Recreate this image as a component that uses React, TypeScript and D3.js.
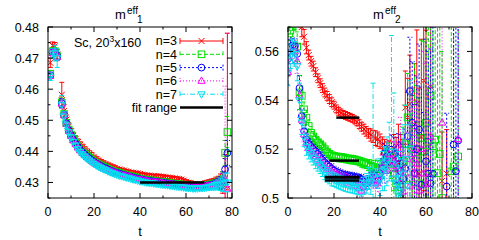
import * as d3 from "d3";

// ---------- data: left panel m_eff_1 (index = t) ----------
const left3 = [
  null, .4685, .4740, .4738, .4712, null, .4582, .4530, .4502, .4480,
  .4464, .4450, .4440, .4430, .4421, .4413, .4405, .4398, .4392, .4386,
  .4380, .4375, .4370, .4366, .4362, .4358, .4355, .4352, .4349, .4346,
  .4344, .4342, .4340, .4338, .4336, .4334, .4332, .4331, .4330, .4329,
  .4327, .4325, .4324, .4323, .4322, .4321, .4320, .4320, .4320, .4319,
  .4318, .4317, .4316, .4315, .4314, .4313, .4312, .4311, .4309, .4306,
  .4302, .4299, .4297, .4295, .4293, .4292, .4292, .4293, .4294, .4295,
  .4296, .4297, .4298, .4299, .4300, .4302, .4300, .4290, .4280,
];
const left3Err = [
  0, .0015, .0012, .0012, .0015, 0, .0040, .0020, .0015, .0012,
  .0010, .0010, .0010, .0010, .0010, .0010, .0010, .0010, .0010, .0010,
  .0008, .0008, .0008, .0008, .0008, .0008, .0008, .0008, .0008, .0008,
  .0006, .0006, .0006, .0006, .0006, .0006, .0006, .0006, .0006, .0006,
  .0006, .0006, .0006, .0006, .0006, .0006, .0006, .0006, .0006, .0006,
  .0006, .0006, .0006, .0006, .0006, .0006, .0006, .0006, .0006, .0006,
  .0007, .0007, .0008, .0008, .0009, .0009, .0010, .0010, .0011, .0012,
  .0013, .0014, .0015, .0018, .0020, .0025, .0035, .0100, .0500,
];
const left4 = [
  null, .4650, .4722, .4722, .4706, null, .4557, .4520, .4492, .4470,
  .4454, .4440, .4428, .4417, .4408, .4400, .4392, .4385, .4379, .4373,
  .4368, .4363, .4359, .4355, .4351, .4348, .4344, .4341, .4338, .4335,
  .4333, .4330, .4328, .4326, .4324, .4322, .4320, .4318, .4316, .4314,
  .4312, .4311, .4309, .4308, .4307, .4306, .4305, .4304, .4303, .4302,
  .4301, .4300, .4299, .4298, .4297, .4296, .4295, .4294, .4293, .4292,
  .4291, .4290, .4290, .4289, .4289, .4289, .4290, .4290, .4291, .4292,
  .4293, .4294, .4296, .4298, .4300, .4302, .4310, .4395, .4462,
];
const left4Err = [
  0, .0010, .0010, .0010, .0012, 0, .0015, .0010, .0008, .0007,
  .0006, .0006, .0006, .0006, .0006, .0006, .0006, .0006, .0006, .0006,
  .0005, .0005, .0005, .0005, .0005, .0005, .0005, .0005, .0005, .0005,
  .0005, .0005, .0005, .0005, .0005, .0005, .0005, .0005, .0005, .0005,
  .0005, .0005, .0005, .0005, .0005, .0005, .0005, .0005, .0005, .0005,
  .0005, .0005, .0005, .0005, .0005, .0005, .0005, .0005, .0005, .0005,
  .0006, .0006, .0006, .0006, .0006, .0006, .0006, .0006, .0006, .0006,
  .0008, .0008, .0010, .0012, .0015, .0018, .0025, .0040, .0050,
];
const left5 = [
  null, .4645, .4718, .4720, .4705, null, .4555, .4518, .4490, .4468,
  .4452, .4437, .4425, .4414, .4405, .4397, .4390, .4383, .4377, .4371,
  .4366, .4361, .4357, .4353, .4349, .4346, .4342, .4339, .4336, .4333,
  .4331, .4328, .4326, .4324, .4322, .4320, .4318, .4316, .4314, .4312,
  .4310, .4309, .4307, .4306, .4305, .4304, .4303, .4302, .4301, .4300,
  .4299, .4298, .4297, .4296, .4295, .4294, .4293, .4292, .4291, .4290,
  .4289, .4288, .4288, .4287, .4287, .4287, .4288, .4288, .4289, .4290,
  .4291, .4292, .4294, .4296, .4298, .4300, .4305, .4342, .4395,
];
const left5Err = [
  0, .0010, .0010, .0010, .0012, 0, .0015, .0010, .0008, .0007,
  .0006, .0006, .0006, .0006, .0006, .0006, .0006, .0006, .0006, .0006,
  .0005, .0005, .0005, .0005, .0005, .0005, .0005, .0005, .0005, .0005,
  .0005, .0005, .0005, .0005, .0005, .0005, .0005, .0005, .0005, .0005,
  .0005, .0005, .0005, .0005, .0005, .0005, .0005, .0005, .0005, .0005,
  .0005, .0005, .0005, .0005, .0005, .0005, .0005, .0005, .0005, .0005,
  .0006, .0006, .0006, .0006, .0006, .0006, .0006, .0006, .0006, .0006,
  .0008, .0008, .0010, .0012, .0015, .0018, .0025, .0035, .0040,
];
const left6 = [
  null, .4642, .4716, .4718, .4703, null, .4553, .4516, .4488, .4466,
  .4450, .4435, .4423, .4412, .4403, .4395, .4388, .4381, .4375, .4369,
  .4364, .4359, .4355, .4351, .4347, .4344, .4340, .4337, .4334, .4331,
  .4329, .4326, .4324, .4322, .4320, .4318, .4316, .4314, .4312, .4310,
  .4308, .4307, .4305, .4304, .4303, .4302, .4301, .4300, .4299, .4298,
  .4297, .4296, .4295, .4294, .4293, .4292, .4291, .4290, .4289, .4288,
  .4287, .4286, .4286, .4285, .4285, .4285, .4286, .4286, .4287, .4288,
  .4289, .4290, .4292, .4294, .4296, .4298, .4300, .4310, .4280,
];
const left6Err = [
  0, .0010, .0010, .0010, .0012, 0, .0015, .0010, .0008, .0007,
  .0006, .0006, .0006, .0006, .0006, .0006, .0006, .0006, .0006, .0006,
  .0005, .0005, .0005, .0005, .0005, .0005, .0005, .0005, .0005, .0005,
  .0005, .0005, .0005, .0005, .0005, .0005, .0005, .0005, .0005, .0005,
  .0005, .0005, .0005, .0005, .0005, .0005, .0005, .0005, .0005, .0005,
  .0005, .0005, .0005, .0005, .0005, .0005, .0005, .0005, .0005, .0005,
  .0006, .0006, .0006, .0006, .0006, .0006, .0006, .0006, .0006, .0006,
  .0008, .0008, .0010, .0012, .0015, .0018, .0030, .0300, .0500,
];
const left7 = [
  null, .4640, .4715, .4716, .4700, null, .4550, .4512, .4484, .4462,
  .4446, .4431, .4419, .4408, .4399, .4391, .4384, .4377, .4371, .4365,
  .4360, .4355, .4351, .4347, .4343, .4340, .4336, .4333, .4330, .4327,
  .4325, .4322, .4320, .4318, .4316, .4314, .4312, .4310, .4308, .4306,
  .4304, .4303, .4301, .4300, .4299, .4298, .4297, .4296, .4295, .4294,
  .4293, .4292, .4291, .4290, .4289, .4288, .4287, .4286, .4285, .4284,
  .4283, .4282, .4282, .4281, .4281, .4281, .4282, .4282, .4283, .4284,
  .4285, .4286, .4288, .4290, .4292, .4294, .4296, .4300, .4300,
];
const left7Err = [
  0, .0012, .0015, .0025, .0030, 0, .0030, .0015, .0010, .0008,
  .0007, .0007, .0007, .0007, .0007, .0007, .0007, .0007, .0007, .0007,
  .0006, .0006, .0006, .0006, .0006, .0006, .0006, .0006, .0006, .0006,
  .0006, .0006, .0006, .0006, .0006, .0006, .0006, .0006, .0006, .0006,
  .0006, .0006, .0006, .0006, .0006, .0006, .0006, .0006, .0006, .0006,
  .0006, .0006, .0006, .0006, .0006, .0006, .0006, .0006, .0006, .0006,
  .0007, .0007, .0007, .0007, .0007, .0007, .0007, .0007, .0007, .0007,
  .0009, .0010, .0012, .0014, .0016, .0020, .0025, .0030, .0030,
];

// ---------- data: right panel m_eff_2 (index = t) ----------
const right3 = [
  .6000, .5920, .5880, .5840, .5800, .5760, .5700, .5660, .5615, .5585,
  .5560, .5540, .5515, .5490, .5470, .5450, .5432, .5418, .5405, .5392,
  .5380, .5365, .5355, .5348, .5342, .5338, .5334, .5330, .5326, .5320,
  .5312, .5302, .5292, .5282, .5273, .5265, .5258, .5252, .5245, .5240,
  .5232, .5215, .5200, .5190, .5185, .5180, .5200, .5178, .5222, .5160,
  .5120, .5370, .5330, .5385, .5200, .5300, .5388, .5100, .5250, .5480,
  .5187, .4950, .5455, null, null, null, null, .5070, null, .5100,
  null, null, null, null, null, null, null,
];
const right3Err = [
  .005, .005, .005, .006, .006, .006, .004, .003, .0025, .002,
  .002, .002, .0018, .0018, .0018, .0018, .0018, .0018, .0018, .0018,
  .0016, .0016, .0016, .0016, .0016, .0016, .0016, .0016, .0016, .0016,
  .0016, .0018, .0018, .002, .002, .002, .0025, .0025, .003, .003,
  .003, .0035, .004, .004, .005, .005, .006, .007, .008, .010,
  .012, .015, .016, .020, .022, .025, .030, .035, .040, .045,
  .050, .050, .050, 0, 0, 0, 0, .020, 0, .018,
  0, 0, 0, 0, 0, 0, 0,
];
const right4 = [
  .5720, .5685, .5700, .5740, .5620, .5432, .5418, .5363, .5329, .5295,
  .5267, .5252, .5239, .5228, .5220, .5212, .5200, .5188, .5180, .5174,
  .5170, .5168, .5166, .5165, .5164, .5162, .5160, .5158, .5157, .5156,
  .5154, .5150, .5146, .5143, .5140, .5135, .5132, .5128, .5125, .5122,
  .5118, .5120, .5150, .5160, .5175, .5140, .5100, .5060, .5030, .5045,
  .5150, .5220, .5330, .5080, .5200, .5270, .5160, .5060, .5246, .5190,
  .5308, .5230, .5418, .5212, .5239, .5102, .5180, .5000, null, null,
  null, .5109, .5129, null, .5170, null, null,
];
const right4Err = [
  .006, .004, .004, .005, .006, .007, .004, .003, .003, .0025,
  .0025, .002, .002, .002, .002, .002, .002, .002, .002, .002,
  .0018, .0018, .0018, .0018, .0018, .0018, .0018, .0018, .0018, .0018,
  .0018, .0018, .002, .002, .002, .0022, .0025, .0025, .003, .003,
  .0035, .004, .004, .0045, .005, .006, .007, .008, .010, .012,
  .014, .016, .018, .022, .025, .028, .030, .035, .040, .045,
  .050, .050, .055, .060, .060, .060, .060, .060, 0, 0,
  0, .060, .060, 0, .060, 0, 0,
];
const right5 = [
  .5569, .5618, .5625, .5622, .5590, .5450, .5335, .5273, .5239, .5222,
  .5212, .5200, .5191, .5180, .5168, .5155, .5145, .5135, .5129, .5120,
  .5112, .5106, .5102, .5098, .5094, .5091, .5089, .5088, .5086, .5084,
  .5082, .5080, .5076, .5070, .5060, .5070, .5078, .5085, .5080, .5070,
  .5100, .5120, .5184, .5170, .5150, .5198, .5180, .5140, .5163, .5110,
  .5080, .5122, .5253, .5438, .5308, .5102, .5200, .5280, .5054, .4900,
  .5150, .5100, .5060, .5099, null, null, null, null, null, .5047,
  null, null, .5219, .5110, .5235, null, null,
];
const right5Err = [
  .004, .003, .003, .003, .004, .005, .003, .0025, .0022, .002,
  .002, .002, .002, .002, .002, .002, .002, .002, .002, .002,
  .0018, .0018, .0018, .0018, .0018, .0018, .0018, .0018, .0018, .0018,
  .0018, .0018, .002, .002, .002, .0022, .0025, .0025, .003, .003,
  .0035, .004, .004, .0045, .005, .006, .007, .008, .010, .012,
  .014, .016, .018, .022, .025, .028, .030, .035, .040, .045,
  .050, .050, .055, .060, 0, 0, 0, 0, 0, .030,
  0, 0, .060, .060, .060, 0, 0,
];
const right6 = [
  .5515, .5560, .5610, .5600, .5560, .5420, .5320, .5260, .5225, .5205,
  .5195, .5185, .5172, .5160, .5150, .5140, .5130, .5120, .5112, .5104,
  .5098, .5093, .5088, .5084, .5080, .5076, .5072, .5068, .5064, .5060,
  .5050, .5040, .5030, .5045, .5060, .5070, .5075, .5070, .5080, .5060,
  .5090, .5130, .5110, .5120, .5180, .5160, .5150, .5130, .5120, .5200,
  .5026, .5100, .5160, .5050, .5180, .5100, .5140, .5030, .5200, .5100,
  .5058, null, .5250, null, null, null, null, .5308, null, null,
  null, null, null, null, .5240, null, null,
];
const right6Err = [
  .005, .004, .004, .004, .005, .006, .004, .003, .003, .0028,
  .0026, .0026, .0026, .0026, .0026, .0026, .0026, .0026, .0026, .0026,
  .0024, .0024, .0024, .0024, .0024, .0024, .0024, .0024, .0024, .0024,
  .0024, .0024, .0026, .0026, .003, .003, .003, .0032, .0035, .0035,
  .004, .0045, .005, .0055, .006, .007, .008, .009, .011, .013,
  .015, .017, .020, .024, .027, .030, .033, .036, .040, .045,
  .050, 0, .055, 0, 0, 0, 0, .060, 0, 0,
  0, 0, 0, 0, .060, 0, 0,
];
const right7 = [
  .5520, .5580, .5600, .5590, .5540, .5400, .5310, .5250, .5210, .5190,
  .5178, .5165, .5150, .5140, .5130, .5118, .5105, .5095, .5088, .5080,
  .5075, .5070, .5066, .5062, .5058, .5055, .5052, .5050, .5048, .5046,
  .5045, .5043, .5040, .5050, .5060, .5080, .5065, .5090, .5060, .5100,
  .5080, .5110, .5120, .5150, .5190, .5140, .5080, .5060, .5030, .4980,
  .5100, .5160, .5050, .5200,
];
const right7Err = [
  .006, .005, .005, .005, .006, .007, .005, .004, .0035, .003,
  .003, .003, .003, .003, .003, .003, .003, .003, .003, .003,
  .0028, .0028, .0028, .0028, .0028, .0028, .0028, .0028, .0028, .0028,
  .003, .003, .0032, .0035, .004, .0045, .005, .038, .006, .006,
  .007, .008, .009, .010, .012, .0525, .035, .014, .016, .018,
  .020, .022, .025, .028,
];

// fit ranges: [tStart, tEnd, value]
const fitsLeft = [[40, 68, .4300]];
const fitsRight = [[21, 31, .5329], [18, 31, .5153], [16, 31, .5086], [16, 31, .5084], [16, 31, .5072]];

const legendLabels = ["n=3", "n=4", "n=5", "n=6", "n=7"];
const xTicks = [0, 20, 40, 60, 80];
const xMinor = [10, 30, 50, 70];
const yTicksLeft = [0.43, 0.44, 0.45, 0.46, 0.47, 0.48];
const yLabelsLeft = ["0.43", "0.44", "0.45", "0.46", "0.47", "0.48"];
const yMinorLeft = [0.425, 0.435, 0.445, 0.455, 0.465, 0.475];
const yTicksRight = [0.5, 0.52, 0.54, 0.56];
const yLabelsRight = ["0.5", "0.52", "0.54", "0.56"];
const yMinorRight = [0.51, 0.53, 0.55, 0.57];

const styles = [
  { color: "#ff0000", dash: "none", marker: "x" },
  { color: "#00e000", dash: "4 2", marker: "sq" },
  { color: "#0000ff", dash: "2 2", marker: "ci" },
  { color: "#ff00ff", dash: "1 2", marker: "tu" },
  { color: "#00e0ee", dash: "5 2 1 2", marker: "td" },
];

const FONT = "'Liberation Sans', Arial, Helvetica, sans-serif";

function Marker({ kind, x, y, color }) {
  const p = { fill: "none", stroke: color, strokeWidth: 1 };
  if (kind === "x") return <path d={`M${x - 3},${y - 3}L${x + 3},${y + 3}M${x - 3},${y + 3}L${x + 3},${y - 3}`} {...p} />;
  if (kind === "sq") return <rect x={x - 3.3} y={y - 3.3} width={6.6} height={6.6} {...p} />;
  if (kind === "ci") return <circle cx={x} cy={y} r={3.4} {...p} />;
  if (kind === "tu") return <path d={`M${x},${y - 4}L${x + 3.6},${y + 2.4}L${x - 3.6},${y + 2.4}Z`} {...p} />;
  return <path d={`M${x},${y + 4}L${x + 3.6},${y - 2.4}L${x - 3.6},${y - 2.4}Z`} {...p} />;
}

function Panel({ id, x0, data, errs, fits, yDomain, yTicks, yLabels, yMinor, sub, titleX, legend }) {
  const top = 27, bottom = 198, width = 184;
  const x = d3.scaleLinear().domain([0, 80]).range([x0, x0 + width]);
  const y = d3.scaleLinear().domain(yDomain).range([bottom, top]);
  const cap = 2.5;

  return (
    <g>
      <defs>
        <clipPath id={id}>
          <rect x={x0} y={top} width={width} height={bottom - top} />
        </clipPath>
      </defs>
      <g clipPath={`url(#${id})`}>
        {data.map((vals, si) => {
          const st = styles[si];
          return (
            <g key={si}>
              {vals.map((v, t) => {
                const e = errs[si][t];
                if (v == null || !e) return null;
                const px = x(t), y1 = y(v - e), y2 = y(v + e);
                return (
                  <path key={t} d={`M${px},${y1}L${px},${y2}M${px - cap},${y1}L${px + cap},${y1}M${px - cap},${y2}L${px + cap},${y2}`}
                    fill="none" stroke={st.color} strokeWidth={1} strokeDasharray={st.dash} />
                );
              })}
              {vals.map((v, t) => v == null ? null : (
                <Marker key={t} kind={st.marker} x={x(t)} y={y(v)} color={st.color} />
              ))}
            </g>
          );
        })}
        {fits.map(([a, b, v], i) => (
          <line key={i} x1={x(a)} x2={x(b)} y1={y(v)} y2={y(v)} stroke="#000" strokeWidth={2.5} />
        ))}
      </g>
      <rect x={x0} y={top} width={width} height={bottom - top} fill="none" stroke="#000" strokeWidth={1} />
      {xTicks.map(t => (
        <g key={t}>
          <line x1={x(t)} x2={x(t)} y1={bottom} y2={bottom - 5} stroke="#000" />
          <line x1={x(t)} x2={x(t)} y1={top} y2={top + 5} stroke="#000" />
          <text x={x(t)} y={216} textAnchor="middle" fontSize={12.5} fontFamily={FONT}>{t}</text>
        </g>
      ))}
      {xMinor.map(t => (
        <g key={t}>
          <line x1={x(t)} x2={x(t)} y1={bottom} y2={bottom - 2.5} stroke="#000" />
          <line x1={x(t)} x2={x(t)} y1={top} y2={top + 2.5} stroke="#000" />
        </g>
      ))}
      {yTicks.map((v, i) => (
        <g key={v}>
          <line x1={x0} x2={x0 + 5} y1={y(v)} y2={y(v)} stroke="#000" />
          <line x1={x0 + width} x2={x0 + width - 5} y1={y(v)} y2={y(v)} stroke="#000" />
          <text x={x0 - 9} y={y(v) + 4.5} textAnchor="end" fontSize={12.5} fontFamily={FONT}>{yLabels[i]}</text>
        </g>
      ))}
      {yMinor.map(v => (
        <g key={v}>
          <line x1={x0} x2={x0 + 2.5} y1={y(v)} y2={y(v)} stroke="#000" />
          <line x1={x0 + width} x2={x0 + width - 2.5} y1={y(v)} y2={y(v)} stroke="#000" />
        </g>
      ))}
      <text x={x0 + width / 2} y={236} textAnchor="middle" fontSize={13} fontFamily={FONT}>t</text>
      <text x={titleX} y={18.5} fontSize={13} fontFamily={FONT}>m</text>
      <text x={titleX + 12} y={13.5} fontSize={10} fontFamily={FONT}>eff</text>
      <text x={titleX + 22} y={23} fontSize={10} fontFamily={FONT}>{sub}</text>
      {legend && (
        <g fontFamily={FONT} fontSize={12.5}>
          <text x={74} y={47}>Sc, 20<tspan fontSize={8.5} dy={-5}>3</tspan><tspan dy={5}>x160</tspan></text>
          {legendLabels.map((lab, i) => {
            const ly = 41 + i * 13.3;
            const st = styles[i];
            return (
              <g key={lab}>
                <text x={177} y={ly + 4.3} textAnchor="end">{lab}</text>
                <path d={`M180,${ly}L223,${ly}M180,${ly - 3}L180,${ly + 3}M223,${ly - 3}L223,${ly + 3}`}
                  fill="none" stroke={st.color} strokeDasharray={st.dash} />
                <Marker kind={st.marker} x={201.5} y={ly} color={st.color} />
              </g>
            );
          })}
          <text x={177} y={41 + 5 * 13.3 + 4.3} textAnchor="end">fit range</text>
          <line x1={180} x2={223} y1={41 + 5 * 13.3} y2={41 + 5 * 13.3} stroke="#000" strokeWidth={2.5} />
        </g>
      )}
    </g>
  );
}

export default function App() {
  return (
    <svg width={479} height={240} style={{ position: "absolute", left: 0, top: 0, background: "#fff" }}>
      <Panel id="clipL" x0={48} data={[left3, left4, left5, left6, left7]}
        errs={[left3Err, left4Err, left5Err, left6Err, left7Err]} fits={fitsLeft}
        yDomain={[0.425, 0.48]} yTicks={yTicksLeft} yLabels={yLabelsLeft} yMinor={yMinorLeft}
        sub="1" titleX={115} legend />
      <Panel id="clipR" x0={288} data={[right3, right4, right5, right6, right7]}
        errs={[right3Err, right4Err, right5Err, right6Err, right7Err]} fits={fitsRight}
        yDomain={[0.5, 0.57]} yTicks={yTicksRight} yLabels={yLabelsRight} yMinor={yMinorRight}
        sub="2" titleX={373} legend={false} />
    </svg>
  );
}
